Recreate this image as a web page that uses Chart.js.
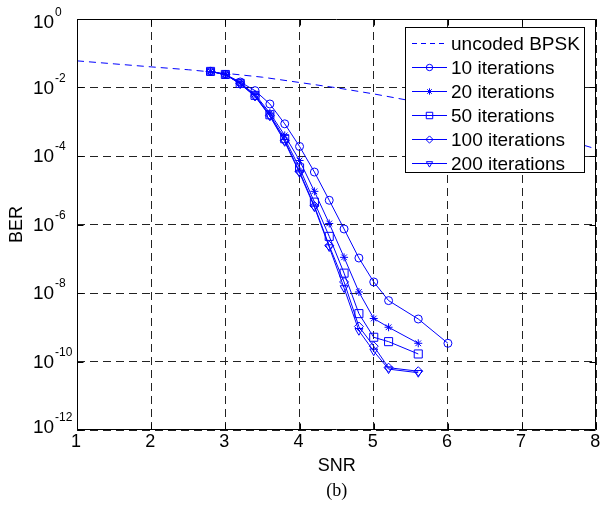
<!DOCTYPE html>
<html>
<head>
<meta charset="utf-8">
<script src="https://cdn.jsdelivr.net/npm/chart.js@4.4.0/dist/chart.umd.min.js"></script>
<style>
  html, body { margin: 0; padding: 0; background: #fff; }
  #wrap { width: 603px; height: 508px; }
</style>
</head>
<body>
<div id="wrap"><canvas id="berChart" width="603" height="508"></canvas></div>
<script>
// Data
const bpskSnr = [1, 1.5, 2, 2.5, 3, 3.5, 4, 4.5, 5, 5.5, 6, 6.5, 7, 7.5, 8];
const bpskBer = [6.0e-2, 4.9e-2, 4.0e-2, 3.3e-2, 2.6e-2, 2.0e-2, 1.4e-2, 9.8e-3, 6.5e-3, 4.1e-3, 2.4e-3, 1.35e-3, 7.0e-4, 3.4e-4, 1.6e-4];

const snr = [2.8, 3.0, 3.2, 3.4, 3.6, 3.8, 4.0, 4.2, 4.4, 4.6, 4.8, 5.0, 5.2, 5.6, 6.0];
const ber10 = [2.95e-2, 2.4e-2, 1.45e-2, 8.1e-3, 3.3e-3, 8.7e-4, 1.9e-4, 3.4e-5, 5.1e-6, 7.4e-7, 1.05e-7, 2.1e-8, 6.0e-9, 1.74e-9, 3.4e-10];
const ber20 = [2.95e-2, 2.4e-2, 1.35e-2, 6.3e-3, 1.8e-3, 4.0e-4, 7.4e-5, 9.3e-6, 1.07e-6, 1.1e-7, 1.07e-8, 1.8e-9, 1.0e-9, 3.4e-10];
const ber50 = [2.95e-2, 2.4e-2, 1.32e-2, 5.9e-3, 1.6e-3, 3.2e-4, 4.5e-5, 4.5e-6, 4.5e-7, 3.8e-8, 2.5e-9, 5.1e-10, 3.8e-10, 1.66e-10];
const ber100 = [2.95e-2, 2.4e-2, 1.29e-2, 5.6e-3, 1.5e-3, 2.8e-4, 3.5e-5, 3.5e-6, 2.4e-7, 2.1e-8, 1.05e-9, 2.8e-10, 6.6e-11, 5.2e-11];
const ber200 = [2.95e-2, 2.4e-2, 1.26e-2, 5.5e-3, 1.45e-3, 2.6e-4, 3.2e-5, 3.2e-6, 2.2e-7, 1.4e-8, 7.9e-10, 2.0e-10, 6.0e-11, 4.7e-11];

const xTicks = [1, 2, 3, 4, 5, 6, 7, 8];
const yExponents = [0, -2, -4, -6, -8, -10, -12];

const BLUE = "#0000ff";
const FONT = "'Liberation Sans', Arial, sans-serif";

function pts(xs, ys) {
  return ys.map((y, i) => ({ x: xs[i], y }));
}

function series(label, ys, style, radius, rotation) {
  return {
    label,
    data: pts(snr, ys),
    borderColor: BLUE,
    borderWidth: 1,
    pointStyle: style,
    pointRadius: radius,
    pointRotation: rotation || 0,
    pointBorderColor: BLUE,
    pointBackgroundColor: "rgba(0,0,0,0)",
    pointBorderWidth: 1,
    tension: 0
  };
}

const datasets = [
  {
    label: "uncoded BPSK",
    data: pts(bpskSnr, bpskBer),
    borderColor: BLUE,
    borderWidth: 1,
    borderDash: [7, 5],
    pointRadius: 0,
    tension: 0
  },
  series("10 iterations", ber10, "circle", 4),
  series("20 iterations", ber20, "star", 4),
  series("50 iterations", ber50, "rect", 5.7),
  series("100 iterations", ber100, "rectRot", 4.5),
  series("200 iterations", ber200, "triangle", 4.5, 180)
];

// MATLAB-like box, inner ticks, labels and legend
const decorPlugin = {
  id: "decor",
  afterDatasetsDraw(chart) {
    const { ctx, chartArea: a, scales } = chart;
    ctx.save();
    ctx.strokeStyle = "#000";
    ctx.lineWidth = 1;
    const L = Math.round(a.left) + 0.5, R = Math.round(a.right) - 0.5;
    const T = Math.round(a.top) + 0.5, B = Math.round(a.bottom) - 0.5;
    ctx.beginPath();
    ctx.rect(L, T, R - L, B - T);
    // inner tick marks
    xTicks.forEach(v => {
      const x = Math.round(scales.x.getPixelForValue(v)) + 0.5;
      ctx.moveTo(x, B); ctx.lineTo(x, B - 6);
      ctx.moveTo(x, T); ctx.lineTo(x, T + 6);
    });
    yExponents.forEach(e => {
      const y = Math.round(scales.y.getPixelForValue(Math.pow(10, e))) + 0.5;
      ctx.moveTo(L, y); ctx.lineTo(L + 6, y);
      ctx.moveTo(R, y); ctx.lineTo(R - 6, y);
    });
    ctx.stroke();
    ctx.restore();
  },
  afterDraw(chart) {
    const { ctx, chartArea: a, scales } = chart;
    ctx.save();
    ctx.fillStyle = "#000";

    // x tick labels
    ctx.font = "18px " + FONT;
    ctx.textAlign = "center";
    ctx.textBaseline = "middle";
    xTicks.forEach(v => {
      ctx.fillText(String(v), scales.x.getPixelForValue(v) - 1, a.bottom + 12);
    });

    // y tick labels with superscript exponents
    yExponents.forEach(e => {
      const yp = scales.y.getPixelForValue(Math.pow(10, e));
      const yc = Math.min(Math.max(yp + 1, 23), 428);
      ctx.font = "19px " + FONT;
      ctx.textAlign = "left";
      ctx.textBaseline = "middle";
      ctx.fillText("10", 33, yc);
      ctx.font = "12px " + FONT;
      ctx.fillText(e === 0 ? "0" : "-" + Math.abs(e), 55, yc - 10);
    });

    // axis titles
    ctx.font = "18px " + FONT;
    ctx.textAlign = "center";
    ctx.fillText("SNR", (a.left + a.right) / 2, 466);
    ctx.save();
    ctx.translate(17, (a.top + a.bottom) / 2);
    ctx.rotate(-Math.PI / 2);
    ctx.fillText("BER", 0, 0);
    ctx.restore();

    ctx.font = "18px 'Liberation Serif', 'Times New Roman', serif";
    ctx.fillText("(b)", (a.left + a.right) / 2, 491);

    // legend
    const bx = 405.5, by = 27.5, bw = 179, bh = 145;
    ctx.fillStyle = "#fff";
    ctx.fillRect(bx, by, bw, bh);
    ctx.strokeStyle = "#000";
    ctx.lineWidth = 1;
    ctx.strokeRect(bx, by, bw, bh);

    chart.data.datasets.forEach((ds, i) => {
      const y = Math.round(43 + i * 24) + 0.5;
      ctx.strokeStyle = BLUE;
      ctx.lineWidth = 1;
      ctx.setLineDash(ds.borderDash ? [5, 4] : []);
      ctx.beginPath();
      ctx.moveTo(412, y);
      ctx.lineTo(447, y);
      ctx.stroke();
      ctx.setLineDash([]);
      if (ds.pointRadius > 0 && Chart.helpers && Chart.helpers.drawPoint) {
        ctx.fillStyle = "rgba(0,0,0,0)";
        Chart.helpers.drawPoint(ctx, {
          pointStyle: ds.pointStyle,
          radius: ds.pointRadius * 0.8,
          rotation: ds.pointRotation,
          borderWidth: 1
        }, 429.5, y);
      }
      ctx.fillStyle = "#000";
      ctx.font = "19px " + FONT;
      ctx.textAlign = "left";
      ctx.textBaseline = "middle";
      ctx.fillText(ds.label, 451, y + 1);
    });
    ctx.restore();
  }
};

new Chart(document.getElementById("berChart"), {
  type: "line",
  data: { datasets },
  options: {
    responsive: false,
    animation: false,
    layout: { padding: { top: 19, right: 6, left: 0, bottom: 0 } },
    plugins: { legend: { display: false }, tooltip: { enabled: false } },
    scales: {
      x: {
        type: "linear",
        min: 1,
        max: 8,
        ticks: { display: false, stepSize: 1 },
        afterFit(scale) { scale.height = 78; },
        grid: { color: "#222", lineWidth: 1, drawTicks: false },
        border: { display: false, dash: [8, 5] }
      },
      y: {
        type: "logarithmic",
        min: 1e-12,
        max: 1,
        ticks: { display: false },
        afterBuildTicks(scale) {
          scale.ticks = yExponents.map(e => ({ value: Math.pow(10, e) }));
        },
        afterFit(scale) { scale.width = 77; },
        grid: { color: "#222", lineWidth: 1, drawTicks: false },
        border: { display: false, dash: [8, 5] }
      }
    }
  },
  plugins: [decorPlugin]
});
</script>
</body>
</html>
